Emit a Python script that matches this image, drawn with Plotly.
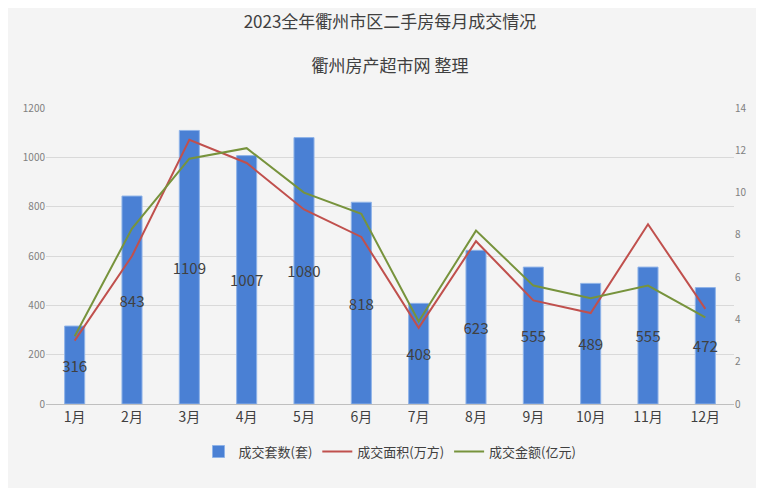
import plotly.graph_objects as go

months = ["1月", "2月", "3月", "4月", "5月", "6月", "7月", "8月", "9月", "10月", "11月", "12月"]
units = [316, 843, 1109, 1007, 1080, 818, 408, 623, 555, 489, 555, 472]
area = [3.0, 7.0, 12.5, 11.4, 9.2, 7.9, 3.6, 7.7, 4.9, 4.3, 8.5, 4.5]
amount = [3.2, 8.3, 11.6, 12.1, 10.0, 9.0, 3.9, 8.2, 5.6, 5.0, 5.6, 4.1]

fig = go.Figure()
fig.add_trace(go.Bar(
    x=months, y=units, name="成交套数(套)",
    marker=dict(color="#4a80d4", line=dict(color="#8fb3e8", width=1)),
    width=0.35,
    text=units, textposition="inside", insidetextanchor="middle", textangle=0,
    textfont=dict(size=15, color="#404040"),
    constraintext="none",
))
fig.add_trace(go.Scatter(x=months, y=area, name="成交面积(万方)", yaxis="y2",
                         mode="lines", line=dict(color="#c0504d", width=2)))
fig.add_trace(go.Scatter(x=months, y=amount, name="成交金额(亿元)", yaxis="y2",
                         mode="lines", line=dict(color="#77933c", width=2)))

fig.update_layout(
    width=764, height=488,
    paper_bgcolor="#f4f4f4", plot_bgcolor="#f4f4f4",
    font=dict(family="Noto Sans CJK SC", color="#404040"),
    title=dict(text="2023全年衢州市区二手房每月成交情况<br><br>衢州房产超市网 整理",
               x=0.5, y=0.96, xanchor="center", yanchor="top",
               font=dict(size=17, color="#404040")),
    margin=dict(l=38, r=38, t=100, b=92),
    xaxis=dict(tickfont=dict(size=14, color="#404040"), showline=True,
               linecolor="#bfbfbf", ticks=""),
    yaxis=dict(range=[0, 1200], dtick=200, gridcolor="#d9d9d9",
               tickfont=dict(size=10, color="#808080"), zeroline=False),
    yaxis2=dict(range=[0, 14], dtick=2, overlaying="y", side="right",
                showgrid=False, tickfont=dict(size=10, color="#808080"), zeroline=False),
    legend=dict(orientation="h", x=0.5, xanchor="center", y=-0.11, yanchor="top",
                font=dict(size=13, color="#404040")),
    bargap=0.5,
)

fig.write_html("out.html")
